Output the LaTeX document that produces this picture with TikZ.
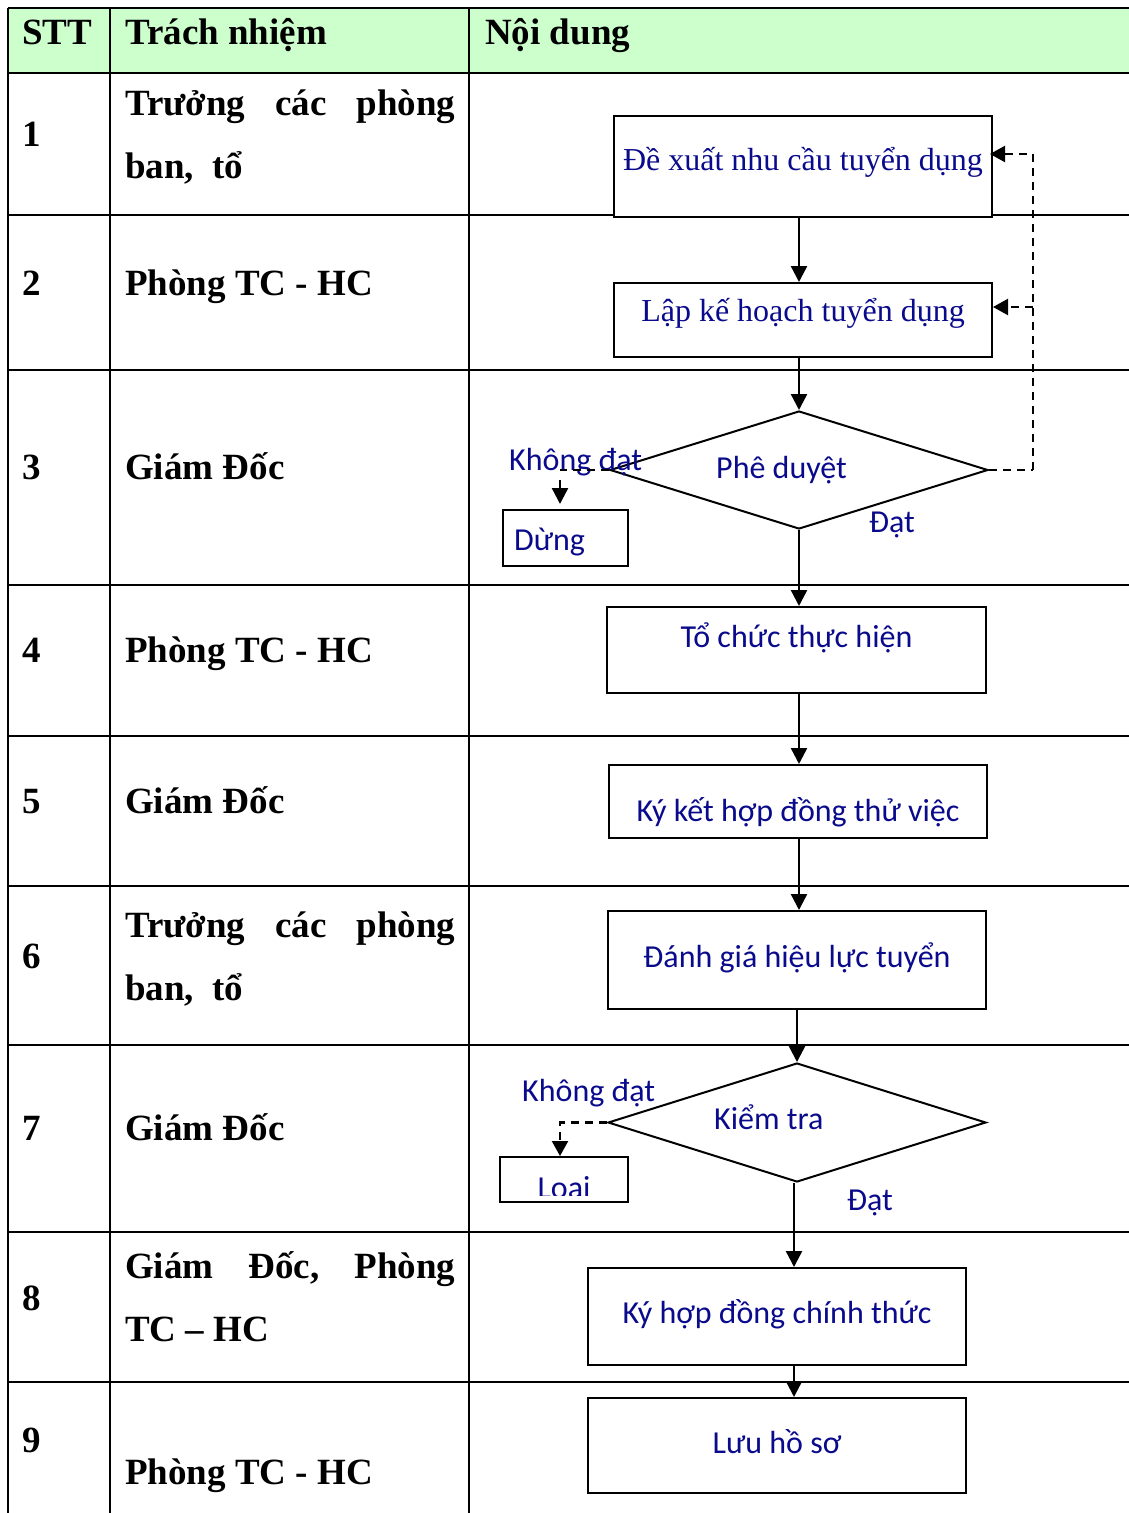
\documentclass[tikz,border=0pt]{standalone}
\usepackage{fontspec}
\setmainfont{Liberation Serif}
\newfontfamily\calib{Carlito}
\usetikzlibrary{arrows.meta,shapes.geometric,calc}
\definecolor{hdrgreen}{HTML}{CCFFCC}
\definecolor{flowblue}{RGB}{10,10,140}

\begin{document}
\begin{tikzpicture}[x=1pt,y=-1pt,
  gridline/.style={line width=2.4pt},
  cell/.style={font=\fontsize{37}{41}\selectfont\bfseries, anchor=base west, inner sep=0pt},
  fbox/.style={draw, fill=white, line width=2pt, inner sep=0pt, text=flowblue},
  tms/.style={font=\fontsize{32}{36}\selectfont},
  cal/.style={font=\calib\fontsize{32}{36}\selectfont},
  flbl/.style={cal, text=flowblue, anchor=base west, inner sep=0pt},
  decision/.style={diamond, draw, line width=2pt, inner sep=0pt, minimum width=378pt, minimum height=118pt},
  arr/.style={line width=2.4pt, -{Triangle[width=16pt,length=16pt]}},
  darr/.style={line width=2.2pt, dash pattern=on 8pt off 6pt, -{Triangle[width=16pt,length=15pt]}},
  dline/.style={line width=2.2pt, dash pattern=on 8pt off 6pt}
]
\useasboundingbox (0,0) rectangle (1129,1513);

% header band
\fill[hdrgreen] (8,8) rectangle (1129,73);

% table rules
\foreach \yy in {8,73,215,370,585,736,886,1045,1232,1382}
  \draw[gridline] (8,\yy) -- (1129,\yy);
\foreach \xx in {8,110,469}
  \draw[gridline] (\xx,8) -- (\xx,1513);

% header texts
\node[cell] (hSTT) at (22,44) {STT};
\node[cell] (hTN) at (125,44) {Trách nhiệm};
\node[cell] (hND) at (485,44) {Nội dung};

% step numbers
\node[cell] (n1) at (22,146) {1};
\node[cell] (n2) at (22,295) {2};
\node[cell] (n3) at (22,479) {3};
\node[cell] (n4) at (22,662) {4};
\node[cell] (n5) at (22,813) {5};
\node[cell] (n6) at (22,968) {6};
\node[cell] (n7) at (22,1140) {7};
\node[cell] (n8) at (22,1310) {8};
\node[cell] (n9) at (22,1452) {9};

% responsibilities
\node[cell] (r1a) at (125,115) {\makebox[330pt][s]{Trưởng\hfill các\hfill phòng}};
\node[cell] (r1b) at (125,178) {ban,\ \ tổ};
\node[cell] (r2) at (125,295) {Phòng TC - HC};
\node[cell] (r3) at (125,479) {Giám Đốc};
\node[cell] (r4) at (125,662) {Phòng TC - HC};
\node[cell] (r5) at (125,813) {Giám Đốc};
\node[cell] (r6a) at (125,937) {\makebox[330pt][s]{Trưởng\hfill các\hfill phòng}};
\node[cell] (r6b) at (125,1000) {ban,\ \ tổ};
\node[cell] (r7) at (125,1140) {Giám Đốc};
\node[cell] (r8a) at (125,1278) {\makebox[330pt][s]{Giám\hfill Đốc,\hfill Phòng}};
\node[cell] (r8b) at (125,1341) {TC – HC};
\node[cell] (r9) at (125,1484) {Phòng TC - HC};

% flowchart boxes
\node[fbox, tms, minimum width=378pt, text height=54pt, text depth=47pt] (B1) at (803,166.5) {Đề xuất nhu cầu tuyển dụng};
\node[fbox, tms, minimum width=378pt, text height=38pt, text depth=36pt] (B2) at (803,320) {Lập kế hoạch tuyển dụng};
\node[decision] (D1) at (799,470) {};
\node[fbox, cal, minimum width=379pt, text height=40pt, text depth=46pt] (B4) at (796.5,650) {Tổ chức thực hiện};
\node[fbox, cal, minimum width=378pt, text height=56pt, text depth=17pt] (B5) at (798,801.5) {Ký kết hợp đồng thử việc};
\node[fbox, cal, minimum width=378pt, text height=56pt, text depth=42pt] (B6) at (797,960) {Đánh giá hiệu lực tuyển};
\node[decision, minimum height=119pt] (D2) at (797,1122.5) {};
\node[fbox, cal, minimum width=378pt, text height=55pt, text depth=42pt] (B8) at (777,1316.5) {Ký hợp đồng chính thức};
\node[fbox, cal, minimum width=378pt, text height=55pt, text depth=40pt] (B9) at (777,1445.5) {Lưu hồ sơ};

% side outcome boxes
\node[fbox, minimum width=125pt, minimum height=56pt] (stop) at (565.5,538) {};
\node[flbl] (stopT) at (514,550) {Dừng};
\node[fbox, minimum width=128pt, minimum height=45pt] (drop) at (564,1179.5) {};
\begin{scope}
  \clip (501,1158) rectangle (627,1195);
  \node[flbl, anchor=base] (dropT) at (564,1198) {Loai};
\end{scope}

% decision texts and branch labels
\node[flbl] (d1T) at (716,478) {Phê duyệt};
\node[flbl] (d1no) at (509,470) {Không đạt};
\node[flbl] (d1yes) at (869,532) {Đạt};
\node[flbl] (d2T) at (714,1129) {Kiểm tra};
\node[flbl] (d2no) at (522,1101) {Không đạt};
\node[flbl] (d2yes) at (847,1210) {Đạt};

% main flow
\draw[arr] (B1.south -| D1.north) -- (B2.north -| D1.north);
\draw[arr] (B2.south -| D1.north) -- (D1.north);
\draw[arr] (D1.south) -- (B4.north -| D1.south);
\draw[arr] (B4.south -| D1.south) -- (B5.north -| D1.south);
\draw[arr] (B5.south -| D1.south) -- (B6.north -| D1.south);
\draw[arr] (B6.south -| D2.north) -- (D2.north);
\draw[arr] ([xshift=-3pt]D2.south) -- ([xshift=-3pt]B8.north -| D2.south);
\draw[arr] ([xshift=-3pt]B8.south -| D2.south) -- ([xshift=-3pt]B9.north -| D2.south);

% rejection loop back to the first two steps
\coordinate (loopC) at ($(D1.east)+(44,0)$);
\draw[dline] (D1.east) -- (loopC);
\draw[darr] (loopC) |- ([yshift=12.5pt,xshift=-3pt]B1.east);
\draw[darr] (loopC |- B2.east) ++(0,-13) -- ([yshift=13pt]B2.east);

% "not passed" branches
\coordinate (k1) at ($(D1.west)+(-49,0)$);
\draw[dline] (D1.west) -- (k1);
\draw[arr] ($(k1)+(0,10)$) -- ([yshift=5pt]stop.north -| k1);
\draw[darr] (D2.west) -| (drop.north -| k1);
\end{tikzpicture}
\end{document}
